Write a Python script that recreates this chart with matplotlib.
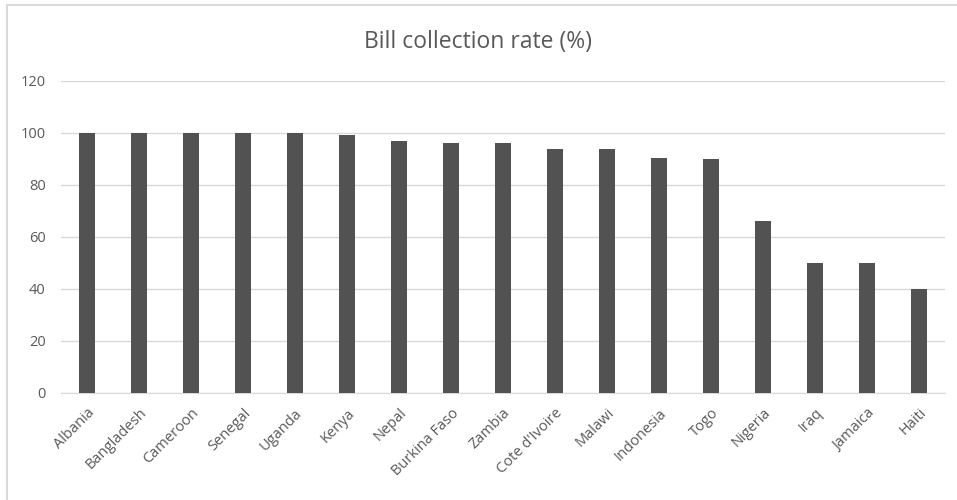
import matplotlib.pyplot as plt
from matplotlib.lines import Line2D

countries = ["Albania", "Bangladesh", "Cameroon", "Senegal", "Uganda", "Kenya",
             "Nepal", "Burkina Faso", "Zambia", "Cote d'Ivoire", "Malawi",
             "Indonesia", "Togo", "Nigeria", "Iraq", "Jamaica", "Haiti"]
rates = [100, 100, 100, 100, 100, 99.1, 96.8, 96.0, 96.0, 93.8, 93.8,
         90.5, 90.0, 66.0, 50.0, 50.0, 40.0]
yticks = [0, 20, 40, 60, 80, 100, 120]

plt.rcParams['font.family'] = ['Open Sans', 'DejaVu Sans']
text_color = '#595959'

fig = plt.figure(figsize=(9.57, 5.0), dpi=100)
ax = fig.add_axes([0.0637, 0.214, 0.9238, 0.624])

x = range(len(countries))
ax.bar(x, rates, width=0.3, color='#525252', zorder=3)

ax.set_xlim(-0.5, len(countries) - 0.5)
ax.set_ylim(0, 120)
ax.set_yticks(yticks)
ax.set_yticklabels([str(v) for v in yticks], fontsize=10.5, color=text_color)
ax.set_xticks(list(x))
ax.set_xticklabels(countries, rotation=45, ha='right', rotation_mode='anchor',
                   fontsize=10.5, color=text_color)
ax.tick_params(axis='both', length=0)
ax.tick_params(axis='y', pad=11)
ax.tick_params(axis='x', pad=9)

ax.grid(axis='y', color='#d9d9d9', linewidth=1.0, zorder=0)
for side in ['top', 'right', 'left']:
    ax.spines[side].set_visible(False)
ax.spines['bottom'].set_color('#d9d9d9')
ax.spines['bottom'].set_zorder(1)

fig.text(0.5, 0.916, "Bill collection rate (%)", ha='center', va='center',
         fontsize=16.5, color=text_color)

# chart frame: only the left and top edges show in the screenshot
left_x = 7 / 957
top_y = 1 - 5 / 500
fig.lines.append(Line2D([left_x, left_x], [0, top_y], transform=fig.transFigure,
                        color='#d9d9d9', linewidth=1.5))
fig.lines.append(Line2D([left_x, 1], [top_y, top_y], transform=fig.transFigure,
                        color='#d9d9d9', linewidth=1.5))

fig.savefig("out.png", dpi=100)
